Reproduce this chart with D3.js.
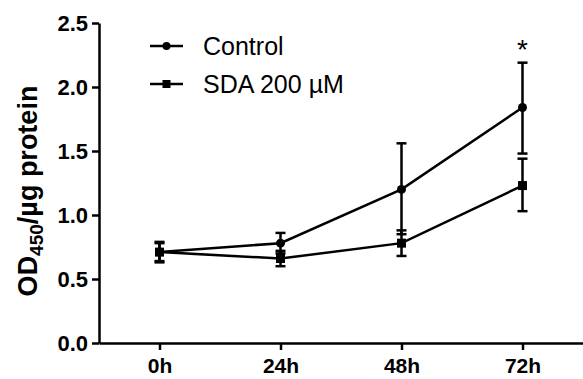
<!DOCTYPE html>
<html>
<head>
<meta charset="utf-8">
<script src="https://cdn.jsdelivr.net/npm/d3@7"></script>
<style>
  body { margin: 0; background: #fff; }
  text { font-family: "Liberation Sans", Arial, sans-serif; }
</style>
</head>
<body>
<div id="chart"></div>
<script>
// data
var timepoints = ["0h", "24h", "48h", "72h"];
var controlMean = [0.71, 0.78, 1.20, 1.84];
var controlUpper = [0.79, 0.86, 1.56, 2.19];
var controlLower = [0.63, 0.70, 0.85, 1.48];
var sdaMean = [0.71, 0.66, 0.78, 1.23];
var sdaUpper = [0.78, 0.72, 0.88, 1.44];
var sdaLower = [0.64, 0.60, 0.68, 1.03];
var yTicks = [0.0, 0.5, 1.0, 1.5, 2.0, 2.5];

var margin = {top: 23, right: 0, bottom: 36, left: 99},
    width = 583 - margin.left - margin.right,
    height = 379 - margin.top - margin.bottom;

var svg = d3.select("#chart")
  .append("svg")
    .attr("width", 583)
    .attr("height", 379);

var g = svg.append("g")
  .attr("transform", "translate(" + margin.left + "," + margin.top + ")");

var x = d3.scalePoint().domain(timepoints).range([0, width]).padding(0.5);
var y = d3.scaleLinear().domain([0, 2.5]).range([height, 0]);

// axes
var xAxis = g.append("g")
  .attr("transform", "translate(0," + height + ")")
  .call(d3.axisBottom(x).tickSize(7).tickPadding(8).tickSizeOuter(0));

var yAxis = g.append("g")
  .call(d3.axisLeft(y).tickValues(yTicks).tickFormat(d3.format(".1f")).tickSize(7).tickPadding(4).tickSizeOuter(0));

[xAxis, yAxis].forEach(function(a) {
  a.select(".domain").attr("stroke", "#000").attr("stroke-width", 2.5);
  a.selectAll(".tick line").attr("stroke", "#000").attr("stroke-width", 2.5);
  a.selectAll(".tick text")
    .attr("fill", "#000")
    .style("font-family", "'Liberation Sans', Arial, sans-serif")
    .style("font-weight", "bold")
    .style("font-size", "22px");
});
xAxis.selectAll(".tick text").style("font-size", "21px");

// y axis title
var yTitle = svg.append("text")
  .attr("transform", "translate(37," + (margin.top + height / 2 + 8) + ") rotate(-90)")
  .attr("text-anchor", "middle")
  .style("font-size", "27px")
  .style("font-weight", "bold")
  .attr("fill", "#000");
yTitle.append("tspan").text("OD");
yTitle.append("tspan").attr("dy", 6).style("font-size", "19px").text("450");
yTitle.append("tspan").attr("dy", -6).text("/\u00b5g protein");

var series = [
  {name: "Control", mean: controlMean, lo: controlLower, hi: controlUpper, shape: "circle"},
  {name: "SDA 200 \u00b5M", mean: sdaMean, lo: sdaLower, hi: sdaUpper, shape: "square"}
];

var line = d3.line()
  .x(function(d, i) { return x(timepoints[i]); })
  .y(function(d) { return y(d); });

series.forEach(function(s) {
  // error bars
  var eb = g.append("g");
  timepoints.forEach(function(t, i) {
    var cx = x(t);
    eb.append("line")
      .attr("x1", cx).attr("x2", cx)
      .attr("y1", y(s.lo[i])).attr("y2", y(s.hi[i]))
      .attr("stroke", "#000").attr("stroke-width", 2.5);
    [s.lo[i], s.hi[i]].forEach(function(v) {
      eb.append("line")
        .attr("x1", cx - 5).attr("x2", cx + 5)
        .attr("y1", y(v)).attr("y2", y(v))
        .attr("stroke", "#000").attr("stroke-width", 2.5);
    });
  });

  g.append("path")
    .datum(s.mean)
    .attr("fill", "none")
    .attr("stroke", "#000")
    .attr("stroke-width", 2.5)
    .attr("d", line);

  s.mean.forEach(function(v, i) {
    if (s.shape === "circle") {
      g.append("circle").attr("cx", x(timepoints[i])).attr("cy", y(v)).attr("r", 4.5).attr("fill", "#000");
    } else {
      g.append("rect").attr("x", x(timepoints[i]) - 4.5).attr("y", y(v) - 4.5)
        .attr("width", 9).attr("height", 9).attr("fill", "#000");
    }
  });
});

// significance marker
g.append("text")
  .attr("x", x("72h"))
  .attr("y", y(controlUpper[3]) - 4)
  .attr("text-anchor", "middle")
  .style("font-size", "28px")
  .attr("fill", "#000")
  .text("*");

// legend
var legend = svg.append("g");
series.forEach(function(s, i) {
  var ly = 46 + i * 38;
  legend.append("line")
    .attr("x1", 150).attr("x2", 183)
    .attr("y1", ly).attr("y2", ly)
    .attr("stroke", "#000").attr("stroke-width", 2.5);
  if (s.shape === "circle") {
    legend.append("circle").attr("cx", 166.5).attr("cy", ly).attr("r", 4).attr("fill", "#000");
  } else {
    legend.append("rect").attr("x", 162.5).attr("y", ly - 4).attr("width", 8).attr("height", 8).attr("fill", "#000");
  }
  legend.append("text")
    .attr("x", 203)
    .attr("y", ly + 9)
    .style("font-size", "25px")
    .attr("fill", "#000")
    .text(s.name);
});
</script>
</body>
</html>
